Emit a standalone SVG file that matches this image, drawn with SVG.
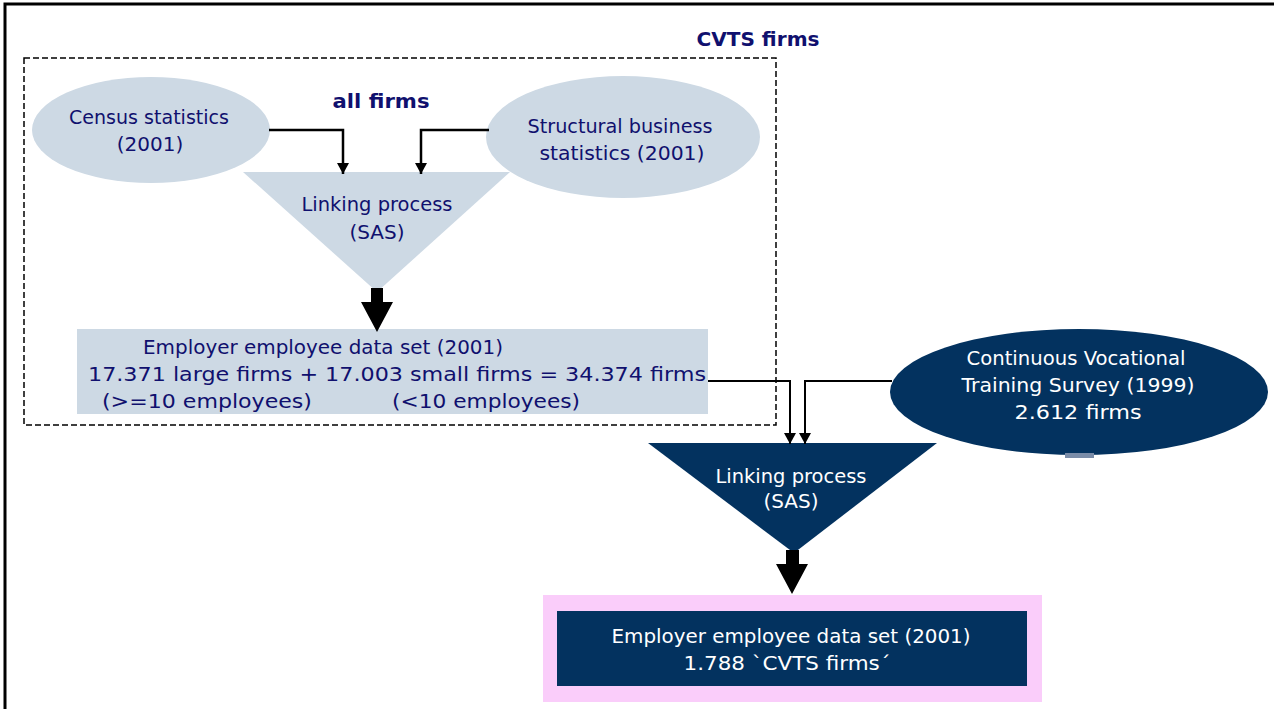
<svg xmlns="http://www.w3.org/2000/svg" width="1274" height="709" viewBox="0 0 1274 709">
<defs>
<style>
.lt{fill:#cdd9e4}
.dk{fill:#03325f}
.tl{font-family:"DejaVu Sans","Liberation Sans",sans-serif;font-size:20px;fill:#10106e;text-anchor:middle}
.tw{font-family:"DejaVu Sans","Liberation Sans",sans-serif;font-size:20px;fill:#ffffff;text-anchor:middle}
.b{font-weight:bold}
.con{fill:none;stroke:#000;stroke-width:2.5}
.con2{fill:none;stroke:#000;stroke-width:2}
</style>
<marker id="ah" markerWidth="12" markerHeight="12" refX="11" refY="6" orient="auto" markerUnits="userSpaceOnUse" viewBox="0 0 12 12">
<path d="M0,0 L11,6 L0,12 Z" fill="#000"/>
</marker>
</defs>
<rect width="1274" height="709" fill="#fff"/>
<path d="M5,709 V4 H1274" fill="none" stroke="#000" stroke-width="3"/>

<g id="cvts-frame">
<rect x="24" y="58" width="752" height="367" fill="none" stroke="#000" stroke-width="1.5" stroke-dasharray="6,3"/>
<text x="758" y="46" class="tl b" textLength="123" lengthAdjust="spacingAndGlyphs">CVTS firms</text>
<text x="381" y="108" class="tl b" textLength="97" lengthAdjust="spacingAndGlyphs">all firms</text>
</g>

<g id="census">
<ellipse cx="151" cy="130" rx="119" ry="53" class="lt"/>
<text x="149" y="124" class="tl" textLength="160" lengthAdjust="spacingAndGlyphs">Census statistics</text>
<text x="150" y="151" class="tl">(2001)</text>
</g>

<g id="structural">
<ellipse cx="623" cy="137" rx="137" ry="61" class="lt"/>
<text x="620" y="133" class="tl" textLength="185" lengthAdjust="spacingAndGlyphs">Structural business</text>
<text x="622" y="160" class="tl" textLength="165" lengthAdjust="spacingAndGlyphs">statistics (2001)</text>
</g>

<g id="linking1">
<polygon points="243,172 510,172 377,292" class="lt"/>
<text x="377" y="211" class="tl" textLength="151" lengthAdjust="spacingAndGlyphs">Linking process</text>
<text x="377" y="239" class="tl">(SAS)</text>
</g>

<g id="dataset1">
<rect x="77" y="329" width="631" height="85" class="lt"/>
<text x="323" y="354" class="tl" textLength="360" lengthAdjust="spacingAndGlyphs">Employer employee data set (2001)</text>
<text x="397" y="381" class="tl" textLength="618" lengthAdjust="spacingAndGlyphs">17.371 large firms + 17.003 small firms = 34.374 firms</text>
<text x="207" y="408" class="tl" textLength="210" lengthAdjust="spacingAndGlyphs">(&gt;=10 employees)</text>
<text x="486" y="408" class="tl" textLength="188" lengthAdjust="spacingAndGlyphs">(&lt;10 employees)</text>
</g>

<g id="cvts-survey">
<ellipse cx="1079" cy="392" rx="189" ry="63" class="dk"/>
<rect x="1065" y="453" width="29" height="5" fill="#7a8ca8"/>
<text x="1076" y="365" class="tw" textLength="219" lengthAdjust="spacingAndGlyphs">Continuous Vocational</text>
<text x="1078" y="392" class="tw" textLength="233" lengthAdjust="spacingAndGlyphs">Training Survey (1999)</text>
<text x="1078" y="419" class="tw" textLength="127" lengthAdjust="spacingAndGlyphs">2.612 firms</text>
</g>

<g id="linking2">
<polygon points="648,443 937,443 794,553" class="dk"/>
<text x="791" y="483" class="tw" textLength="151" lengthAdjust="spacingAndGlyphs">Linking process</text>
<text x="791" y="508" class="tw">(SAS)</text>
</g>

<g id="dataset2">
<rect x="543" y="595" width="499" height="107" fill="#facdfa"/>
<rect x="557" y="611" width="470" height="75" class="dk"/>
<text x="791" y="643" class="tw" textLength="359" lengthAdjust="spacingAndGlyphs">Employer employee data set (2001)</text>
<text x="787" y="670" class="tw" textLength="207" lengthAdjust="spacingAndGlyphs">1.788 `CVTS firms´</text>
</g>

<g id="connectors">
<path d="M269,130 H343 V174" class="con" marker-end="url(#ah)"/>
<path d="M489,130 H421 V174" class="con" marker-end="url(#ah)"/>
<path d="M708,381 H790 V444" class="con2" marker-end="url(#ah)"/>
<path d="M892,381 H805 V444" class="con2" marker-end="url(#ah)"/>
<polygon points="371,288 383,288 383,302 393,302 377,332 361,302 371,302" fill="#000"/>
<polygon points="786,550 799,550 799,564 808,564 792,594 776,564 786,564" fill="#000"/>
</g>
</svg>
